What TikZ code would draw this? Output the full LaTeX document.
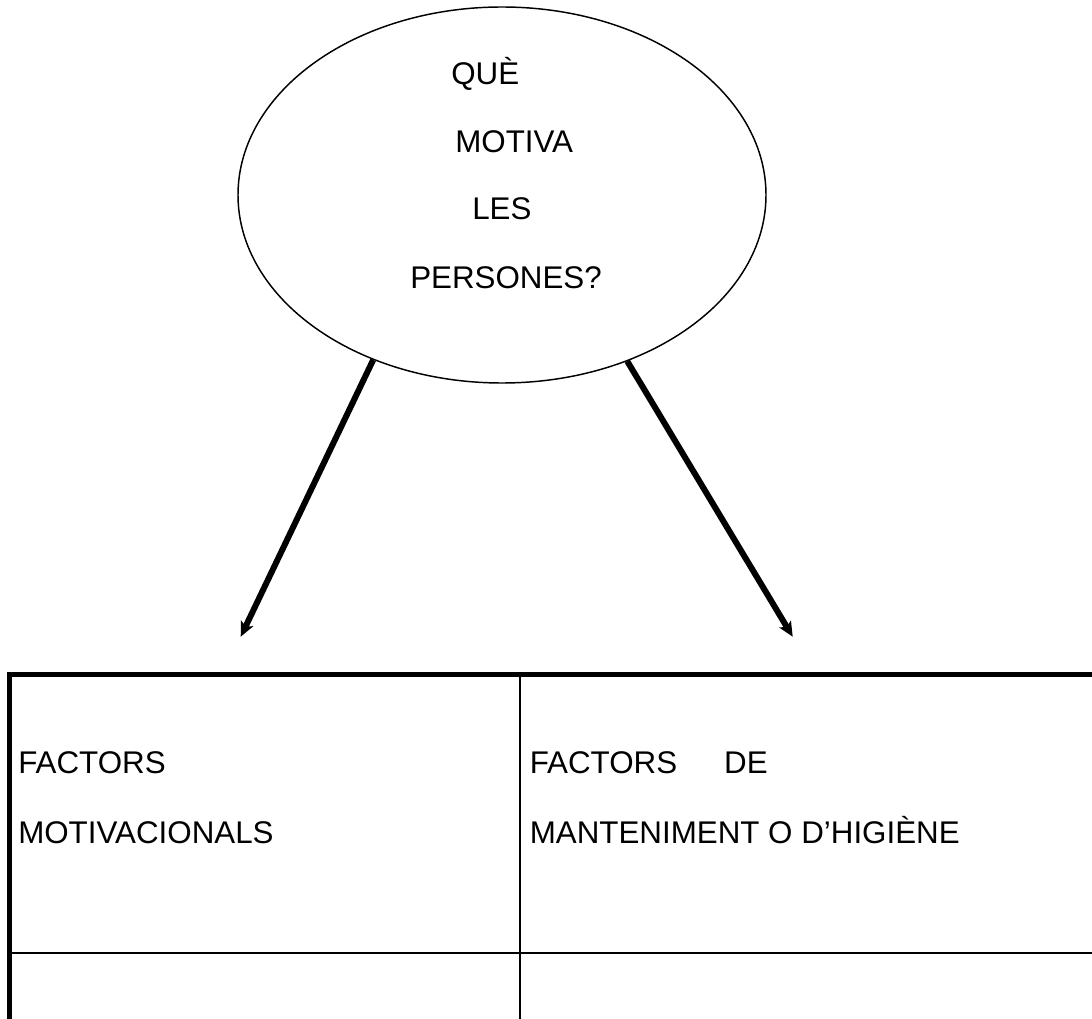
\documentclass[tikz,border=0pt]{standalone}
\usepackage{fontspec}
\setmainfont{Liberation Sans}
\usetikzlibrary{arrows.meta,shapes.geometric}
\begin{document}
\begin{tikzpicture}[x=0.75pt,y=-0.75pt,
  lbl/.style={inner sep=0pt, anchor=base west, font=\fontsize{23.5}{28}\selectfont},
  bubble/.style={draw, ellipse, line width=1.1pt, minimum width=396pt, minimum height=282pt, inner sep=0pt},
  branch/.style={line width=4.5pt, -{Stealth[length=11pt,width=10pt,inset=2.5pt]}},
  thickrule/.style={line width=3.4pt, line join=miter},
  thinrule/.style={line width=1.7pt}]
\fill[white] (0,0) rectangle (1092,1019);
\useasboundingbox (0,0) rectangle (1092,1019);

% question bubble
\node[bubble] (q) at (502,195) {};
\node[lbl] (t1) at (451,85) {QUÈ};
\node[lbl] (t2) at (455,153) {MOTIVA};
\node[lbl] (t3) at (472,220) {LES};
\node[lbl] (t4) at (410,289) {PERSONES?};

% branches down to the two columns
\coordinate (lt) at (240.7,636.7);
\coordinate (rt) at (792.7,636.7);
\draw[branch] (q.232.4) -- (lt);
\draw[branch] (q.307.3) -- (rt);

% table rules
\draw[thinrule] (520,674.5) -- (520,1019);
\draw[thinrule] (9.5,952.8) -- (1092,952.8);
\draw[thickrule] (9.5,1019) -- (9.5,674.5) -- (1092,674.5);

% table cells
\node[lbl] (c1a) at (18,773) {FACTORS};
\node[lbl] (c1b) at (18,843) {MOTIVACIONALS};
\node[lbl] (c2a) at (529.5,773) {FACTORS\hspace{35.25pt}DE};
\node[lbl] (c2b) at (529.5,843) {MANTENIMENT O D’HIGIÈNE};
\end{tikzpicture}
\end{document}
